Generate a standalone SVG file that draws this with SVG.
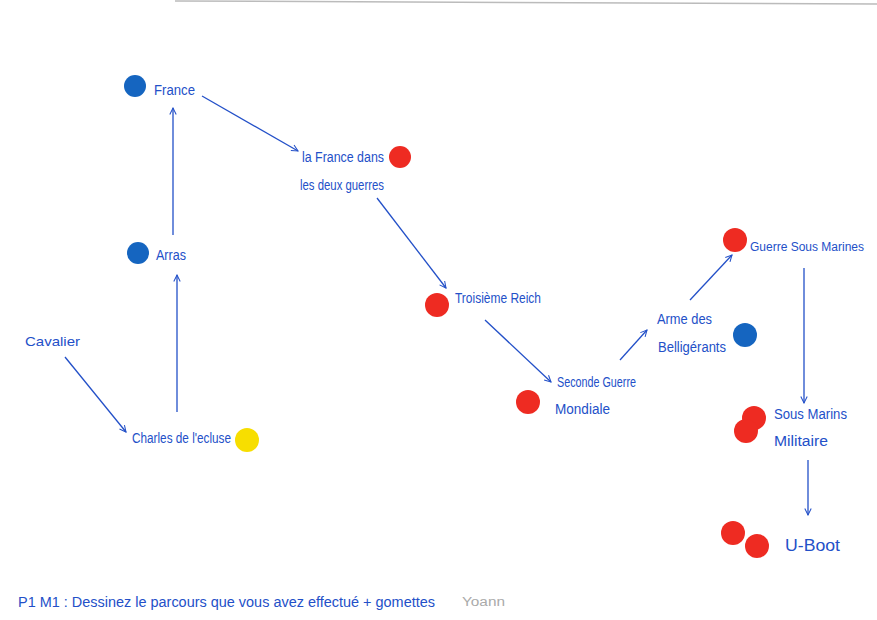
<svg xmlns="http://www.w3.org/2000/svg" width="877" height="620" viewBox="0 0 877 620">
<style>
text{font-family:"Liberation Sans",Arial,sans-serif;font-size:14px;fill:#2350c8}
.c{stroke:#2350c8;stroke-width:1.3;fill:none;marker-end:url(#ah)}
.b{fill:#1565c0}.r{fill:#ee2b22}.y{fill:#f7de00}
</style>
<defs>
<marker id="ah" viewBox="0 0 10 10" refX="9" refY="5" markerWidth="8" markerHeight="8" orient="auto" markerUnits="userSpaceOnUse">
<path d="M1,1 L9,5 L1,9" fill="none" stroke="#2350c8" stroke-width="1.3"/>
</marker>
</defs>
<rect width="877" height="620" fill="#fff"/>
<line x1="175" y1="1" x2="877" y2="4" stroke="#bbb" stroke-width="1.5"/>
<g id="connectors">
<line class="c" x1="65" y1="357" x2="126" y2="432"/>
<line class="c" x1="177" y1="412" x2="177" y2="275"/>
<line class="c" x1="173" y1="235" x2="173" y2="108"/>
<line class="c" x1="202" y1="96" x2="298" y2="151"/>
<line class="c" x1="377" y1="198" x2="446" y2="288"/>
<line class="c" x1="485" y1="320" x2="551" y2="382"/>
<line class="c" x1="620" y1="360" x2="647" y2="330"/>
<line class="c" x1="690" y1="300" x2="732" y2="255"/>
<line class="c" x1="804" y1="268" x2="804" y2="403"/>
<line class="c" x1="808" y1="460" x2="808" y2="515"/>
</g>
<g id="france"><circle class="b" cx="135" cy="86" r="11"/><text x="154" y="95" textLength="41" lengthAdjust="spacingAndGlyphs">France</text></g>
<g id="lafrance"><circle class="r" cx="400" cy="157" r="11"/><text x="302" y="162" textLength="82" lengthAdjust="spacingAndGlyphs">la France dans</text><text x="300" y="190" textLength="84" lengthAdjust="spacingAndGlyphs">les deux guerres</text></g>
<g id="arras"><circle class="b" cx="138" cy="253" r="11"/><text x="156" y="260" textLength="30" lengthAdjust="spacingAndGlyphs">Arras</text></g>
<g id="cavalier"><text x="25" y="346" textLength="55" lengthAdjust="spacingAndGlyphs" style="font-size:13px">Cavalier</text></g>
<g id="charles"><circle class="y" cx="247" cy="440" r="12"/><text x="132" y="443" textLength="99" lengthAdjust="spacingAndGlyphs">Charles de l'ecluse</text></g>
<g id="reich"><circle class="r" cx="437" cy="305" r="12"/><text x="455" y="303" textLength="86" lengthAdjust="spacingAndGlyphs">Troisième Reich</text></g>
<g id="seconde"><circle class="r" cx="528" cy="402" r="12"/><text x="557" y="387" textLength="79" lengthAdjust="spacingAndGlyphs">Seconde Guerre</text><text x="555" y="414" textLength="55" lengthAdjust="spacingAndGlyphs">Mondiale</text></g>
<g id="arme"><circle class="b" cx="745" cy="335" r="12"/><text x="657" y="324" textLength="55" lengthAdjust="spacingAndGlyphs">Arme des</text><text x="658" y="352" textLength="68" lengthAdjust="spacingAndGlyphs">Belligérants</text></g>
<g id="guerresm"><circle class="r" cx="735" cy="240" r="12"/><text x="750" y="251" style="font-size:12px" textLength="114" lengthAdjust="spacingAndGlyphs">Guerre Sous Marines</text></g>
<g id="sousmarins"><circle class="r" cx="754" cy="418" r="12"/><circle class="r" cx="746" cy="431" r="12"/><text x="774" y="419" textLength="73" lengthAdjust="spacingAndGlyphs">Sous Marins</text><text x="774" y="446" textLength="54" lengthAdjust="spacingAndGlyphs">Militaire</text></g>
<g id="uboot"><circle class="r" cx="733" cy="533" r="12"/><circle class="r" cx="757" cy="546" r="12"/><text x="785" y="551" style="font-size:17px" textLength="55" lengthAdjust="spacingAndGlyphs">U-Boot</text></g>
<g id="footer"><text x="18" y="607" textLength="417" lengthAdjust="spacingAndGlyphs">P1 M1 : Dessinez le parcours que vous avez effectué + gomettes</text><text x="462" y="606" style="fill:#aaa;font-size:12px" textLength="43" lengthAdjust="spacingAndGlyphs">Yoann</text></g>
</svg>
